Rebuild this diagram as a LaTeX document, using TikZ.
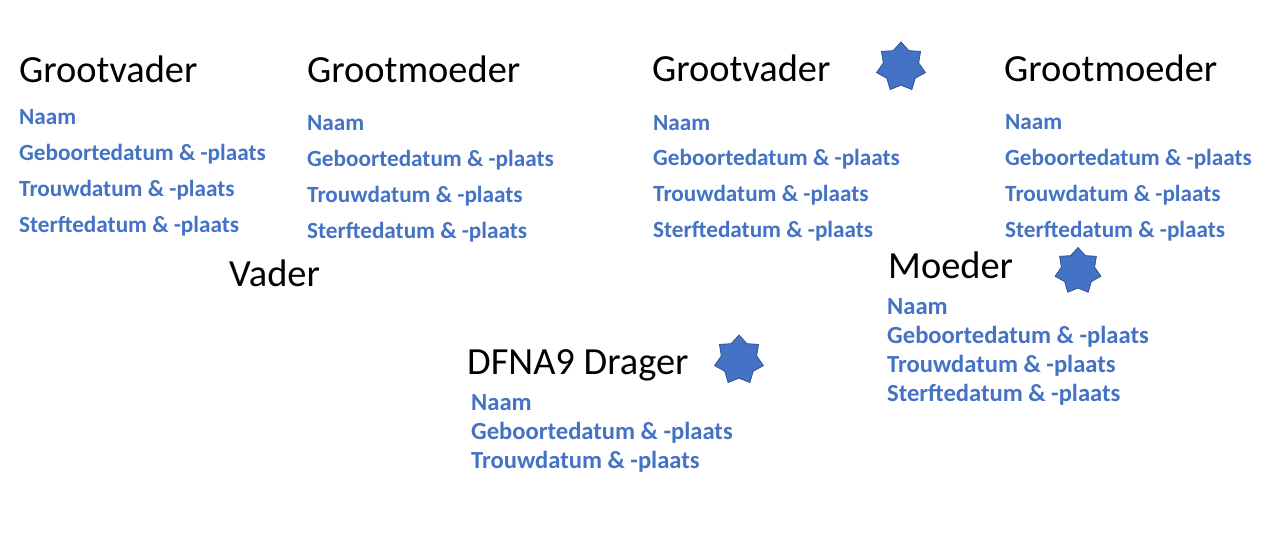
\documentclass[tikz,border=0pt]{standalone}
\usepackage{fontspec}
\setmainfont{Carlito}
\usepackage{xcolor}
\usepackage{tikz}
\usetikzlibrary{shapes.geometric}

\definecolor{itemblue}{HTML}{4472C4}
\definecolor{stardark}{HTML}{2F528F}

\begin{document}
\begin{tikzpicture}[
        x=1pt, y=-1pt,
        person/.style={anchor=base west, inner sep=0pt, text=black, font=\fontsize{38.4}{42}\selectfont},
        item/.style={anchor=base west, inner sep=0pt, text=itemblue, font=\bfseries\fontsize{23.2}{26}\selectfont},
        itemlarge/.style={item, font=\bfseries\fontsize{24.6}{27}\selectfont},
        carrier/.style={star, star points=7, star point ratio=1.38, draw=stardark, fill=itemblue, line width=0.8pt, minimum size=50pt, inner sep=0pt}
    ]
        \useasboundingbox[fill=white] (0,0) rectangle (1280,550);

        % grootouders vaderskant
        \node[person] (gv1) at (19,82) {Grootvader};
        \node[item] (gv1naam) at (19,124) {Naam};
        \node[item] (gv1geb) at (19,160) {Geboortedatum \& -plaats};
        \node[item] (gv1trouw) at (19,196) {Trouwdatum \& -plaats};
        \node[item] (gv1sterf) at (19,232) {Sterftedatum \& -plaats};

        \node[person] (gm1) at (307,82) {Grootmoeder};
        \node[item] (gm1naam) at (307,130) {Naam};
        \node[item] (gm1geb) at (307,166) {Geboortedatum \& -plaats};
        \node[item] (gm1trouw) at (307,202) {Trouwdatum \& -plaats};
        \node[item] (gm1sterf) at (307,238) {Sterftedatum \& -plaats};

        % grootouders moederskant
        \node[person] (gv2) at (652,81) {Grootvader};
        \node[carrier] (gv2star) at (901,67) {};
        \node[item] (gv2naam) at (653,130) {Naam};
        \node[item] (gv2geb) at (653,165) {Geboortedatum \& -plaats};
        \node[item] (gv2trouw) at (653,201) {Trouwdatum \& -plaats};
        \node[item] (gv2sterf) at (653,237) {Sterftedatum \& -plaats};

        \node[person] (gm2) at (1004,81) {Grootmoeder};
        \node[item] (gm2naam) at (1005,129) {Naam};
        \node[item] (gm2geb) at (1005,165) {Geboortedatum \& -plaats};
        \node[item] (gm2trouw) at (1005,201) {Trouwdatum \& -plaats};
        \node[item] (gm2sterf) at (1005,237) {Sterftedatum \& -plaats};

        % ouders
        \node[person] (vader) at (229,286) {Vader};

        \node[person] (moeder) at (888,278) {Moeder};
        \node[carrier, minimum size=47pt] (moederstar) at (1078,271) {};
        \node[itemlarge] (mnaam) at (887,314) {Naam};
        \node[itemlarge] (mgeb) at (887,343) {Geboortedatum \& -plaats};
        \node[itemlarge] (mtrouw) at (887,372) {Trouwdatum \& -plaats};
        \node[itemlarge] (msterf) at (887,401) {Sterftedatum \& -plaats};

        % drager
        \node[person] (drager) at (467,374) {DFNA9 Drager};
        \node[carrier] (dragerstar) at (739,360) {};
        \node[itemlarge] (dnaam) at (471,410) {Naam};
        \node[itemlarge] (dgeb) at (471,439) {Geboortedatum \& -plaats};
        \node[itemlarge] (dtrouw) at (471,468) {Trouwdatum \& -plaats};
    \end{tikzpicture}
\end{document}
